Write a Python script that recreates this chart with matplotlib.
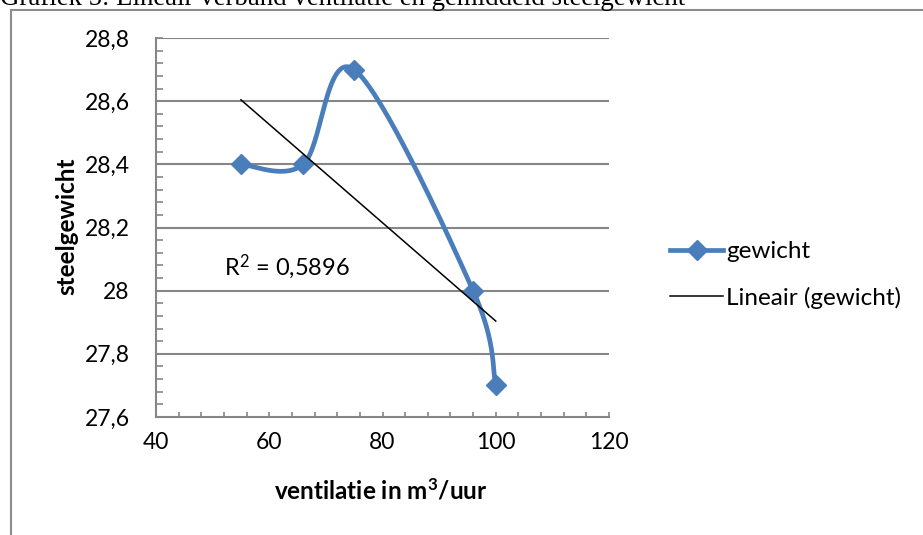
import numpy as np
import matplotlib
matplotlib.use("Agg")
import matplotlib.pyplot as plt
from matplotlib.lines import Line2D
from matplotlib.patches import Rectangle

# ---- data ----
ventilatie = [55, 66, 75, 96, 100]
gewicht = [28.4, 28.4, 28.7, 28.0, 27.7]
series_label = "gewicht"
trend_label = "Lineair (gewicht)"
x_label = r"ventilatie in $\mathbf{m^3}$/uur"
y_label = "steelgewicht"
title = "Grafiek 5: Lineair verband ventilatie en gemiddeld steelgewicht"
x_ticks = [40, 60, 80, 100, 120]
y_ticks = [27.6, 27.8, 28.0, 28.2, 28.4, 28.6, 28.8]
y_ticklabels = ["27,6", "27,8", "28", "28,2", "28,4", "28,6", "28,8"]

W, H = 923, 535
plt.rcParams['font.family'] = ['Lato', 'DejaVu Sans']
plt.rcParams['mathtext.fontset'] = 'custom'
plt.rcParams['mathtext.rm'] = 'Lato'
plt.rcParams['mathtext.it'] = 'Lato'
plt.rcParams['mathtext.bf'] = 'Lato:bold'
fig = plt.figure(figsize=(W / 100, H / 100), dpi=100)

# outer chart border (cropped)
fig.patches.append(Rectangle((10.5 / W, -0.1), 1.2, (H - 9.5) / H + 0.1, transform=fig.transFigure,
                             fill=False, edgecolor='#8c8c8c', lw=1.5, zorder=0))

# title (cut off at top, as in the source page)
fig.text(0.0, 1 - 5 / H, title, family='Liberation Serif', fontsize=19.4, va='baseline', ha='left')

L, R, T, B = 156, 609, 38, 417
ax = fig.add_axes([L / W, 1 - B / H, (R - L) / W, (B - T) / H])
ax.set_xlim(40, 120)
ax.set_ylim(27.6, 28.8)

grid_c = '#868686'
for s in ['top', 'right']:
    ax.spines[s].set_visible(False)
for s in ['left', 'bottom']:
    ax.spines[s].set_color(grid_c)
    ax.spines[s].set_linewidth(1.5)

ax.set_xticks(x_ticks)
ax.set_xticklabels([str(v) for v in x_ticks])
ax.set_yticks(y_ticks)
ax.set_yticklabels(y_ticklabels)
ax.set_xticks(np.arange(40, 120.1, 4), minor=True)
ax.set_yticks(np.arange(27.6, 28.801, 0.04), minor=True)
ax.tick_params(axis='x', which='both', direction='in', length=3.5, width=1.2, color=grid_c,
               labelsize=16.5, pad=11)
ax.tick_params(axis='y', which='both', direction='in', length=5, width=1.2, color=grid_c,
               labelsize=16.5, pad=19)
for yv in y_ticks[1:]:
    ax.axhline(yv, color=grid_c, lw=1.5, zorder=1)

ax.set_xlabel(x_label, fontsize=17.5, fontweight='bold')
ax.set_ylabel(y_label, fontsize=17.5, fontweight='bold')
ax.xaxis.set_label_coords((381 - L) / (R - L), (B - 478) / (B - T))
ax.yaxis.set_label_coords((78 - L) / (R - L), (B - 226) / (B - T))

# smoothed line (Catmull-Rom / Excel style) in display space
pts = ax.transData.transform(np.column_stack([ventilatie, gewicht]))
n = len(pts)
curve = []
for i in range(n - 1):
    p0 = pts[max(i - 1, 0)]
    p1 = pts[i]
    p2 = pts[i + 1]
    p3 = pts[min(i + 2, n - 1)]
    c1 = p1 + (p2 - p0) / 6
    c2 = p2 - (p3 - p1) / 6
    t = np.linspace(0, 1, 60)[:, None]
    seg = ((1 - t) ** 3) * p1 + 3 * ((1 - t) ** 2) * t * c1 + 3 * (1 - t) * t ** 2 * c2 + t ** 3 * p2
    curve.append(seg if i == 0 else seg[1:])
curve = np.vstack(curve)
curve_data = ax.transData.inverted().transform(curve)

blue = '#4a7ebb'
ax.plot(curve_data[:, 0], curve_data[:, 1], color=blue, lw=3.4, solid_capstyle='round', zorder=3)
ax.plot(ventilatie, gewicht, linestyle='none', marker='D', markersize=10, color=blue, zorder=4)

# linear trend line
slope, intercept = np.polyfit(ventilatie, gewicht, 1)
xt = np.array([min(ventilatie), max(ventilatie)])
ax.plot(xt, slope * xt + intercept, color='black', lw=1.1, zorder=5)
pred = slope * np.array(ventilatie) + intercept
r2 = 1 - np.sum((np.array(gewicht) - pred) ** 2) / np.sum((np.array(gewicht) - np.mean(gewicht)) ** 2)
r2_text = r"R$^2$ = " + f"{r2:.4f}".replace('.', ',')
ax.text(52.0, 28.05, r2_text, fontsize=17, ha='left', va='baseline')

# legend
handles = [Line2D([], [], color=blue, lw=3.4, marker='D', markersize=10),
           Line2D([], [], color='black', lw=1.1)]
fig.legend(handles, [series_label, trend_label], loc='center left',
           bbox_to_anchor=(670 / W, 1 - 275 / H), frameon=False, fontsize=17.5,
           handlelength=2.2, handletextpad=0.1, labelspacing=1.0, borderpad=0, borderaxespad=0)

fig.savefig("out.png", dpi=100)
